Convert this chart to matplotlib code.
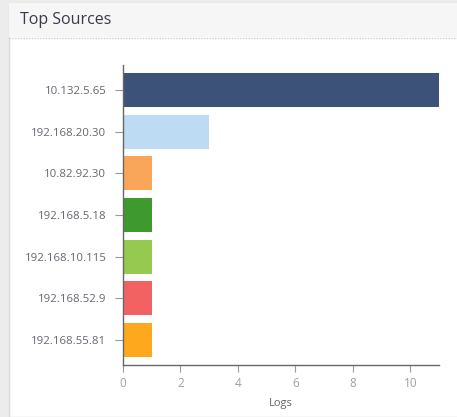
import matplotlib.pyplot as plt
from matplotlib.patches import Rectangle

plt.rcParams['font.family'] = ['Open Sans', 'DejaVu Sans']

sources = ['10.132.5.65', '192.168.20.30', '10.82.92.30', '192.168.5.18',
           '192.168.10.115', '192.168.52.9', '192.168.55.81']
logs = [11, 3, 1, 1, 1, 1, 1]
colores = ['#3d5279', '#bddbf2', '#f9a65a', '#3e9a2e', '#95c94f', '#f26262', '#fea81d']

W, H = 457, 417
fig = plt.figure(figsize=(W / 100, H / 100), dpi=100)

# panel background: gray strip on the left and top, striped header
fig.patches.append(Rectangle((0, 0), 1, 1, transform=fig.transFigure,
                             facecolor='#ececec', edgecolor='none', zorder=-3))
fig.patches.append(Rectangle((9 / W, 0), 1, (H - 3) / H, transform=fig.transFigure,
                             facecolor='white', edgecolor='#dadada', lw=1, zorder=-2))
fig.patches.append(Rectangle((9 / W, (H - 37) / H), 1, 34 / H, transform=fig.transFigure,
                             facecolor='#f6f6f6', edgecolor='none', zorder=-1))
fig.lines.append(plt.Line2D([9 / W, 1], [(H - 38) / H] * 2, transform=fig.transFigure,
                            color='#c8ccd4', lw=1, ls=(0, (1, 1))))
fig.text(20 / W, (H - 20) / H, 'Top Sources', fontsize=11.5, color='#3a3a4a',
         va='center', ha='left')

ax = fig.add_axes([123 / W, 52 / H, 316 / W, 300 / H])
y = list(range(len(sources)))
ax.barh(y, logs, height=0.81, color=colores)
ax.set_ylim(len(sources) - 0.4, -0.6)
ax.set_xlim(0, 11)
ax.set_yticks(y)
ax.set_yticklabels(sources)
ax.set_xticks([0, 2, 4, 6, 8, 10])
ax.set_xlabel('Logs', fontsize=8, color='#666666', labelpad=6)

for lado in ['top', 'right']:
    ax.spines[lado].set_visible(False)
for lado in ['left', 'bottom']:
    ax.spines[lado].set_color('#666666')
    ax.spines[lado].set_linewidth(1)
ax.tick_params(axis='both', colors='#999999', labelsize=8.2, length=6, width=0.8)
ax.tick_params(axis='y', labelcolor='#666670', pad=6)
ax.tick_params(axis='x', labelcolor='#a0a0a0', length=5, labelsize=8.5)

fig.savefig('out.png', dpi=100)
